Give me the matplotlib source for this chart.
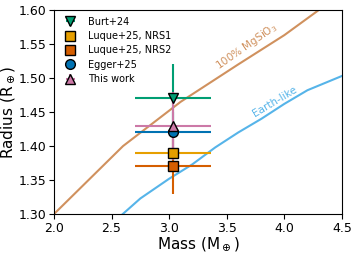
import matplotlib
matplotlib.use('Agg')
import matplotlib.pyplot as plt

# mass-radius curves
mgsio3_mass = [2.0, 2.3, 2.6, 3.1, 3.6, 4.0, 4.3, 4.5]
mgsio3_radius = [1.300, 1.350, 1.400, 1.465, 1.520, 1.563, 1.600, 1.620]
earth_mass = [2.55, 2.75, 3.0, 3.2, 3.4, 3.6, 3.8, 4.0, 4.2, 4.5]
earth_radius = [1.293, 1.323, 1.352, 1.373, 1.398, 1.420, 1.440, 1.462, 1.482, 1.503]

# measurements
labels = ['Burt+24', 'Luque+25, NRS1', 'Luque+25, NRS2', 'Egger+25', 'This work']
mass = [3.03, 3.03, 3.03, 3.03, 3.03]
mass_err = [0.33, 0.33, 0.33, 0.33, 0.33]
radius = [1.47, 1.39, 1.37, 1.42, 1.43]
radius_err = [0.05, 0.02, 0.04, 0.03, 0.05]
markers = ['v', 's', 's', 'o', '^']
colors = ['#009E73', '#E69F00', '#D55E00', '#0072B2', '#CC79A7']

fig = plt.figure(figsize=(3.57, 2.54), dpi=100)
ax = fig.add_axes([0.151, 0.157, 0.807, 0.804])

ax.plot(mgsio3_mass, mgsio3_radius, color='#D0915E', lw=1.5)
ax.plot(earth_mass, earth_radius, color='#56B4E9', lw=1.5)
ax.text(3.67, 1.546, '100% MgSiO$_3$', color='#D0915E', fontsize=7.5,
        rotation=35, ha='center', va='center')
ax.text(3.92, 1.466, 'Earth-like', color='#56B4E9', fontsize=7.5,
        rotation=31, ha='center', va='center')

for i in range(len(labels)):
    ax.errorbar(mass[i], radius[i], xerr=mass_err[i], yerr=radius_err[i],
                fmt=markers[i], color=colors[i], mec='k', ms=7, lw=1.5,
                label=labels[i])

ax.set_xlim(2.0, 4.5)
ax.set_ylim(1.30, 1.60)
ax.set_xticks([2.0, 2.5, 3.0, 3.5, 4.0, 4.5])
ax.set_yticks([1.30, 1.35, 1.40, 1.45, 1.50, 1.55, 1.60])
ax.tick_params(labelsize=9, pad=2)
ax.set_xlabel('Mass (M$_\\oplus$)', fontsize=11, labelpad=0)
ax.set_ylabel('Radius (R$_\\oplus$)', fontsize=11, labelpad=1)
ax.legend(loc='upper left', frameon=False, fontsize=7, handletextpad=0.8,
          labelspacing=0.45, borderaxespad=0.3)

fig.savefig('out.png', dpi=100)
